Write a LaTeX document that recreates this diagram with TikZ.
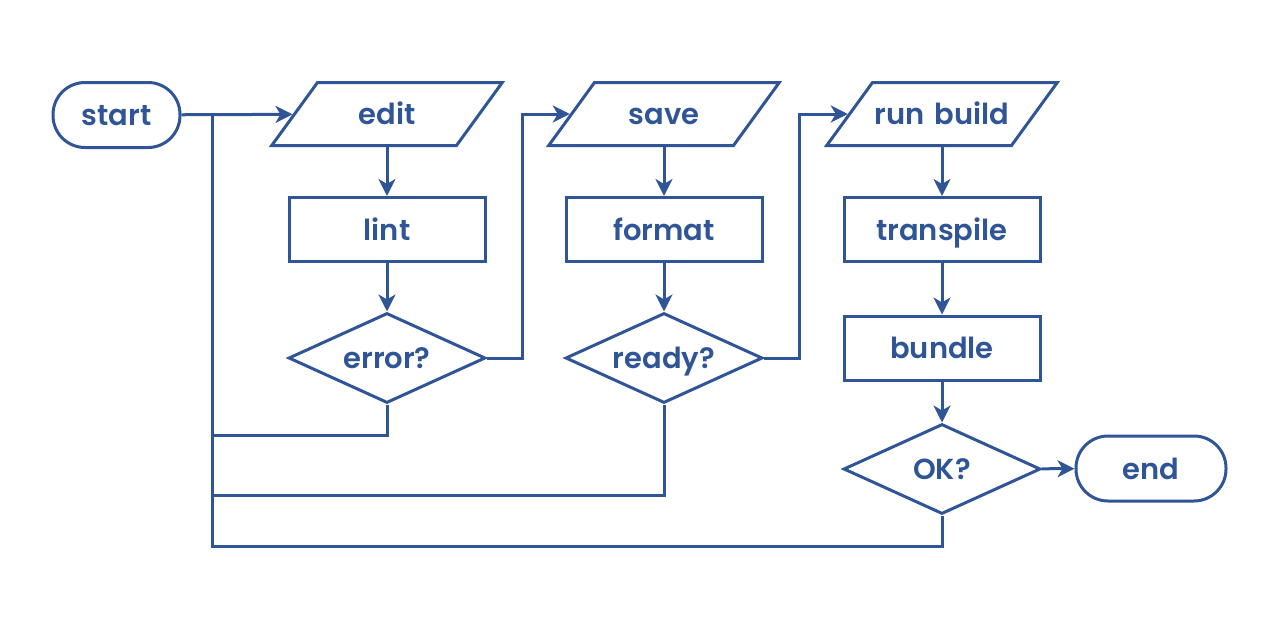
\documentclass[tikz,border=0pt]{standalone}
\usepackage{fontspec}
\setmainfont{Poppins}[UprightFont=* SemiBold]
\usetikzlibrary{arrows.meta,shapes.geometric}
\definecolor{flowblue}{HTML}{2F5597}

\tikzset{
  base/.style={draw=flowblue, line width=3pt, text=flowblue, inner sep=0pt,
    text height=25pt, text depth=4pt, font=\fontsize{29}{34}\selectfont},
  terminal/.style={base, rectangle, rounded corners=32pt, minimum height=65pt},
  process/.style={base, rectangle, minimum width=196pt, minimum height=64pt},
  io/.style={base, trapezium, trapezium left angle=54, trapezium right angle=126,
    text width=139pt, align=center, inner xsep=0pt, inner ysep=17pt},
  decision/.style={base, diamond, aspect=2.2, minimum width=197pt, minimum height=90pt},
  link/.style={draw=flowblue, line width=3pt},
  flow/.style={link, -{Stealth[length=17pt, width=17pt, inset=5pt]}}
}

\begin{document}
\begin{tikzpicture}[x=1pt, y=-1pt]
    \useasboundingbox (0,0) rectangle (1280,640);

    % Terminals
    \node at (116.5,115) [terminal, minimum width=127pt] (start) {start};
    \node at (1151,468.5) [terminal, minimum width=150pt] (end) {end};

    % Column 1
    \node at (387,114) [io] (edit) {edit};
    \node at (387,229.5) [process] (lint) {lint};
    \node at (387,358) [decision] (error) {error?};

    % Column 2
    \node at (664,114) [io] (save) {save};
    \node at (664,229.5) [process] (format) {format};
    \node at (664,358) [decision] (ready) {ready?};

    % Column 3
    \node at (942,114) [io] (build) {run~build};
    \node at (942,229.5) [process] (transpile) {transpile};
    \node at (942,348) [process] (bundle) {bundle};
    \node at (942,469) [decision] (ok) {OK?};

    % Main flow
    \coordinate (bus) at (212,114);
    \draw[flow] (start) -- (edit);
    \draw[flow] (edit) -- (lint);
    \draw[flow] (lint) -- (error);
    \draw[flow] (save) -- (format);
    \draw[flow] (format) -- (ready);
    \draw[flow] (build) -- (transpile);
    \draw[flow] (transpile) -- (bundle);
    \draw[flow] (bundle) -- (ok);
    \draw[flow] (ok) -- (end);

    % Forward branches
    \draw[flow] (error.east) -- ++(35,0) |- (save);
    \draw[flow] (ready.east) -- ++(35,0) |- (build);

    % Loops back to edit
    \draw[link] (error.south) -- ++(0,31) -| (bus);
    \draw[link] (ready.south) -- ++(0,91) -| (bus);
    \draw[link] (ok.south) -- ++(0,31) -| (bus);
\end{tikzpicture}
\end{document}
